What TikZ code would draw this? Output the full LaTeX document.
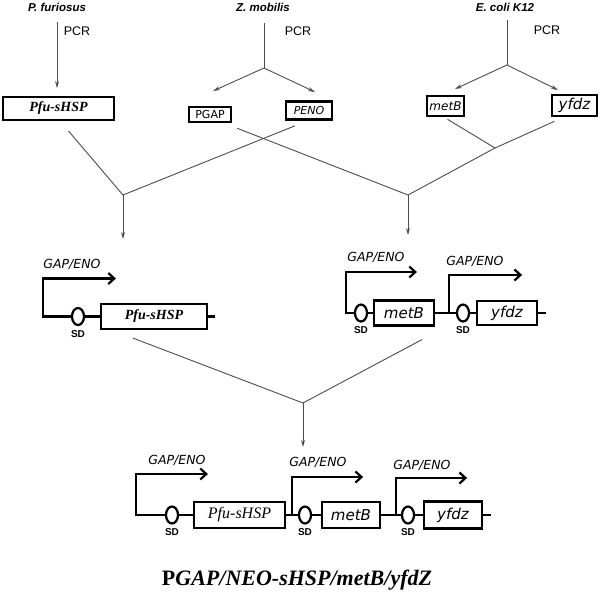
\documentclass[tikz,border=0pt]{standalone}
\usepackage{fontspec}
\setmainfont{Liberation Serif}
\setsansfont{Liberation Sans}
\newfontfamily\verdfont{DejaVu Sans}
\usetikzlibrary{arrows.meta}
\usetikzlibrary{shapes.geometric}
\usetikzlibrary{positioning}

\begin{document}
\begin{tikzpicture}[x=1pt,y=-1pt,
    link/.style={draw=black!70,line width=0.9pt},
    feed/.style={link,-{Stealth[length=7pt,width=4pt]}},
    prom/.style={line width=2.2pt,line join=miter,-{Straight Barb[length=6pt,width=11pt]}},
    wire/.style={line width=2.2pt},
    org node/.style={font=\sffamily\bfseries\itshape\fontsize{11.5}{13}\selectfont},
    pcr node/.style={font=\sffamily\fontsize{12.5}{14}\selectfont},
    top node/.style={draw,line width=2.6pt,inner sep=0pt},
    gene node/.style={draw,line width=2.2pt,inner sep=0pt,font=\verdfont\itshape\fontsize{15}{17}\selectfont},
    sd node/.style={ellipse,draw,line width=2.2pt,minimum width=12pt,minimum height=17pt,inner sep=0pt},
    sd text/.style={font=\sffamily\bfseries\fontsize{10}{11}\selectfont,inner sep=1pt},
    gap node/.style={font=\verdfont\itshape\fontsize{12.5}{14}\selectfont}]
  \useasboundingbox (0,0) rectangle (600,595);

  % sources and PCR products
  \node[org node] (pfs) at (57,7) {P. furiosus};
  \node[org node] (zmo) at (263,7) {Z. mobilis};
  \node[org node] (eco) at (505,7) {E. coli K12};
  \node[pcr node] (pcra) at (77,31) {PCR};
  \node[pcr node] (pcrb) at (298,31) {PCR};
  \node[pcr node] (pcrc) at (547,30) {PCR};
  \node[top node,line width=2pt,minimum width=111pt,minimum height=23pt,font=\bfseries\itshape\fontsize{14}{16}\selectfont] (hspa) at (58.5,108.5) {Pfu-sHSP};
  \node[top node,minimum width=42pt,minimum height=15pt,font=\verdfont\fontsize{11}{13}\selectfont] (pgap) at (210,114.5) {PGAP};
  \node[top node,minimum width=46pt,minimum height=18pt,font=\verdfont\itshape\fontsize{11}{13}\selectfont] (peno) at (309,110.5) {PENO};
  \node[top node,minimum width=37pt,minimum height=20pt,font=\verdfont\itshape\fontsize{12}{14}\selectfont] (meta) at (445.5,106) {metB};
  \node[top node,minimum width=45pt,minimum height=21pt,font=\verdfont\itshape\fontsize{15}{17}\selectfont] (yfda) at (574.5,105.5) {yfdz};

  \coordinate (zs) at (264,68);
  \coordinate (es) at (507,65);
  \coordinate (pgapin) at (213,91);
  \coordinate (penoin) at (315,92);
  \coordinate (metain) at (455,89);
  \coordinate (yfdain) at (558,90);
  \coordinate (ej) at (495,148);
  \coordinate (jl) at (123,195);
  \coordinate (jr) at (408,195);
  \coordinate (inl) at (123,239);
  \coordinate (inr) at (408,235);
  \coordinate (jb) at (303,403);
  \coordinate (inb) at (303,447);

  \draw[feed,shorten <=7pt,shorten >=8pt] (pfs.south) -- (pfs.south |- hspa.north);
  \draw[link,shorten <=8pt] (zmo.south -| zs) -- (zs);
  \draw[feed] (zs) -- (pgapin);
  \draw[feed] (zs) -- (penoin);
  \draw[link,shorten <=5pt] (eco.south -| es) -- (es);
  \draw[feed] (es) -- (metain);
  \draw[feed] (es) -- (yfdain);

  % joining
  \draw[link] ([shift={(10,10)}]hspa.south) -- (jl) -- ([shift={(-14,5)}]peno.south);
  \draw[feed] (jl) -- (inl);
  \draw[link] ([shift={(2,2)}]meta.south) -- (ej) -- ([shift={(-20,4)}]yfda.south);
  \draw[link] ([shift={(5,5)}]pgap.south east) -- (jr) -- (ej);
  \draw[feed] (jr) -- (inr);

  % GAP/ENO - Pfu-sHSP
  \node[sd node] (sda) at (78,316.5) {};
  \node[gene node,font=\bfseries\itshape\fontsize{14}{16}\selectfont,minimum width=106pt,minimum height=25pt] (hspb) at (154,316.5) {Pfu-sHSP};
  \draw[wire] (sda) -- (hspb);
  \draw[wire] (hspb.east) -- ++(7,0);
  \draw[prom] (sda.west) -| ++(-28,-38) -- ++(73,0);
  \node[gap node] (gapa) at (72,264) {GAP/ENO};
  \node[sd text,below=3pt of sda] (sdta) {SD};

  % GAP/ENO - metB - GAP/ENO - yfdz
  \node[sd node] (sdb) at (361,313) {};
  \node[gene node,minimum width=60pt,minimum height=25pt] (metb) at (404,313) {metB};
  \node[sd node] (sdc) at (463,313) {};
  \node[gene node,minimum width=60pt,minimum height=24pt] (yfdb) at (507,313) {yfdz};
  \draw[wire] (sdb) -- (metb) -- (sdc) -- (yfdb);
  \draw[wire] (yfdb.east) -- ++(8,0);
  \draw[prom] (sdb.west) -| ++(-8,-41) -- ++(71,0);
  \draw[prom] ([xshift=14pt]metb.east) |- ++(73,-38);
  \node[gap node] (gapb) at (376,257) {GAP/ENO};
  \node[gap node] (gapc) at (475,261) {GAP/ENO};
  \node[sd text,below=3pt of sdb] (sdtb) {SD};
  \node[sd text,below=3pt of sdc] (sdtc) {SD};

  \draw[link] ([shift={(-21,8)}]hspb.south) -- (jb) -- ([shift={(18,13)}]metb.south);
  \draw[feed] (jb) -- (inb);

  % final construct
  \node[sd node] (sdd) at (172,515) {};
  \node[gene node,font=\itshape\fontsize{16}{18}\selectfont,minimum width=91pt,minimum height=26pt] (hspc) at (239.5,515) {Pfu-sHSP};
  \node[sd node] (sde) at (305,515) {};
  \node[gene node,minimum width=58pt,minimum height=26pt] (metc) at (351,515) {metB};
  \node[sd node] (sdf) at (408,515) {};
  \node[gene node,minimum width=58pt,minimum height=27pt] (yfdc) at (453,515) {yfdz};
  \draw[wire] (sdd) -- (hspc) -- (sde) -- (metc) -- (sdf) -- (yfdc);
  \draw[wire] (yfdc.east) -- ++(8,0);
  \draw[prom] (sdd.west) -| ++(-29,-41) -- ++(72,0);
  \draw[prom] ([xshift=6pt]hspc.east) |- ++(71,-38);
  \draw[prom] ([xshift=15pt]metc.east) |- ++(71,-37);
  \node[gap node] (gapd) at (177,460) {GAP/ENO};
  \node[gap node] (gape) at (318,462) {GAP/ENO};
  \node[gap node] (gapf) at (422,465) {GAP/ENO};
  \node[sd text,below=3pt of sdd] (sdtd) {SD};
  \node[sd text,below=3pt of sde] (sdte) {SD};
  \node[sd text,below=3pt of sdf] (sdtf) {SD};

  \node[font=\bfseries\fontsize{22}{25}\selectfont] (title) at (297,580) {P\textit{GAP/NEO-sHSP/metB/yfdZ}};
\end{tikzpicture}
\end{document}
